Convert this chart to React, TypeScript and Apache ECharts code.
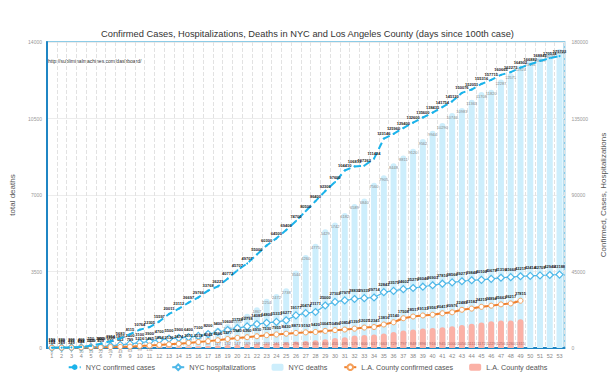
import React, { useEffect, useRef } from "react";
import * as echarts from "echarts";

const days: string[] = Array.from({ length: 53 }, (_, i) => String(i + 1));

const nycCases: number[] = [
  154, 269, 329, 644, 1339, 2469, 3954, 5683, 8115, 10764,
  12305, 15597, 20011, 23112, 26697, 29766, 33768, 36221, 40773, 45707,
  49707, 55000, 60300, 64500, 69400, 74700, 80500, 86400, 92300, 97600,
  104410, 106813, 107263, 111424, 123146, 125960, 129400, 132600, 135600, 138435,
  141754, 145130, 150076, 152051, 155316, 157715, 160665, 162273, 164902, 166882,
  168845, 170534, 171723,
];

const nycHosp: number[] = [
  150, 220, 300, 400, 550, 800, 1200, 1800, 2400, 3100,
  3900, 4700, 5500, 5900, 6400, 7100, 8200, 9400, 10600, 11728,
  12718, 14085, 14800, 15333, 16277, 19177, 20474, 21171, 25000, 27102,
  27979, 28830, 29331, 29714, 32843, 33575, 34602, 35279, 36046, 36903,
  37810, 38566, 39271, 39840, 40100, 40679, 41316, 41660, 42211, 42414,
  42709, 42940, 43188,
];

const nycDeaths: number[] = [
  0, 2, 7, 10, 13, 22, 26, 43, 63, 99,
  131, 199, 280, 385, 517, 678, 790, 932, 1096, 1374,
  1562, 1867, 2254, 2472, 2738, 3544, 4260, 4775, 5429, 5742,
  6182, 6589, 6840, 7560, 7905, 8448, 8811, 9120, 9562, 9944,
  10290, 10746, 10983, 11363, 11708, 11820, 12287, 12571, 12924, 13156,
  13319, 13536, 13683,
];

const laCases: number[] = [
  144, 190, 231, 292, 351, 409, 536, 662, 799, 1216,
  1465, 1804, 2136, 2474, 3011, 3518, 4045, 4566, 5277, 5940,
  6360, 6910, 7530, 7955, 8430, 8873, 9192, 9420, 10047, 10496,
  10854, 11391, 12021, 12341, 13816, 15140, 17508, 18517, 19133, 19567,
  20417, 20976, 22485, 23182, 24215, 24894, 25662, 26217, 27815,
];

const laDeaths: number[] = [
  1, 2, 2, 5, 5, 7, 11, 13, 21, 26,
  32, 38, 44, 54, 65, 78, 89, 117, 132, 147,
  169, 198, 223, 241, 265, 296, 320, 360, 400, 455,
  495, 576, 600, 617, 663, 729, 797, 848, 896, 916,
  945, 1000, 1056, 1111, 1172, 1229, 1256, 1260, 1315,
];

const leftTicks = { min: 0, max: 14000, interval: 3500 };
const rightTicks = { min: 0, max: 180000, interval: 45000 };

const FONT = "Liberation Sans";
const plain = (v: any) => String(typeof v === "object" && v !== null ? v.value : v);

export default function App() {
  const ref = useRef<HTMLDivElement>(null);
  useEffect(() => {
    if (!ref.current) return;
    const chart = echarts.init(ref.current, undefined, { renderer: "svg" });
    const lineLabel = {
      show: true,
      position: "top" as const,
      fontSize: 4,
      fontWeight: "bold" as const,
      color: "#222",
      fontFamily: FONT,
      distance: 2,
      formatter: (p: any) => String(p.value),
    };
    chart.setOption({
      animation: false,
      backgroundColor: "#fff",
      textStyle: { fontFamily: FONT },
      title: {
        text: "Confirmed Cases, Hospitalizations, Deaths in NYC and Los Angeles County (days since 100th case)",
        left: "center",
        top: 24,
        textStyle: { fontSize: 9.3, fontWeight: "normal", color: "#333", fontFamily: FONT },
      },
      legend: {
        bottom: 4,
        left: "center",
        itemWidth: 12,
        itemHeight: 7,
        itemGap: 16,
        textStyle: { fontSize: 7.2, color: "#555", fontFamily: FONT },
        data: [
          "NYC confirmed cases",
          "NYC hospitalizations",
          "NYC deaths",
          "L.A. County confirmed cases",
          "L.A. County deaths",
        ],
      },
      grid: {
        left: 32,
        right: 41,
        top: 42,
        bottom: 32,
        show: true,
        borderColor: "#8ccbe6",
        borderWidth: 2,
        backgroundColor: "#fff",
      },
      graphic: [
        {
          type: "text",
          left: 48,
          top: 58,
          style: {
            text: "http://subliminalmachines.com/dashboard/",
            fontSize: 5,
            fill: "#333",
            fontFamily: FONT,
          },
        },
      ],
      xAxis: {
        type: "category",
        data: days,
        axisLine: { lineStyle: { color: "#1f86c4", width: 2 } },
        axisTick: { show: false },
        axisLabel: { fontSize: 5.5, color: "#888", margin: 5, interval: 0 },
        splitLine: { show: true, lineStyle: { color: "#e2e2e2", type: "dashed", width: 1 } },
      },
      yAxis: [
        {
          type: "value",
          position: "left",
          ...leftTicks,
          name: "total deaths",
          nameLocation: "middle",
          nameGap: 31,
          nameTextStyle: { fontSize: 8, color: "#555" },
          axisLine: { show: true, lineStyle: { color: "#1f86c4", width: 2 } },
          axisTick: { show: false },
          axisLabel: { fontSize: 5, color: "#999", margin: 5, formatter: plain },
          splitLine: { show: true, lineStyle: { color: "#ececec" } },
        },
        {
          type: "value",
          position: "right",
          ...rightTicks,
          name: "Confirmed, Cases, Hospitalizations",
          nameLocation: "middle",
          nameGap: 29,
          nameTextStyle: { fontSize: 8, color: "#555" },
          axisLine: { show: false },
          axisTick: { show: false },
          axisLabel: { fontSize: 5, color: "#999", margin: 7, formatter: plain },
          splitLine: { show: false },
        },
      ],
      series: [
        {
          name: "NYC deaths",
          type: "bar",
          yAxisIndex: 0,
          data: nycDeaths,
          barWidth: 6,
          barGap: "-100%",
          itemStyle: { color: "#cdeefc", borderRadius: [3, 3, 0, 0] },
          label: {
            show: true,
            position: "insideTop",
            fontSize: 4,
            color: "#888",
            distance: 2,
            formatter: (p: any) => String(p.value),
          },
          z: 1,
        },
        {
          name: "L.A. County deaths",
          type: "bar",
          yAxisIndex: 0,
          data: laDeaths,
          barWidth: 6,
          barGap: "-100%",
          itemStyle: { color: "#fbb1a6", borderRadius: [3, 3, 0, 0] },
          label: {
            show: true,
            position: "insideBottom",
            fontSize: 4,
            color: "#a66",
            distance: 3,
            formatter: (p: any) => String(p.value),
          },
          z: 2,
        },
        {
          name: "NYC confirmed cases",
          type: "line",
          yAxisIndex: 1,
          data: nycCases,
          symbol: "circle",
          symbolSize: 2,
          itemStyle: { color: "#1bb3ea" },
          lineStyle: { color: "#1bb3ea", width: 2, type: [7, 4] },
          label: lineLabel,
          z: 5,
        },
        {
          name: "NYC hospitalizations",
          type: "line",
          yAxisIndex: 1,
          data: nycHosp,
          symbol: "diamond",
          symbolSize: 7,
          itemStyle: { color: "#fff", borderColor: "#4fb8e8", borderWidth: 1.2 },
          lineStyle: { color: "#4fb8e8", width: 1.2 },
          label: lineLabel,
          z: 4,
        },
        {
          name: "L.A. County confirmed cases",
          type: "line",
          yAxisIndex: 1,
          data: laCases,
          symbol: "circle",
          symbolSize: 5,
          itemStyle: { color: "#fff", borderColor: "#f5a05a", borderWidth: 1 },
          lineStyle: { color: "#f07f2c", width: 2 },
          label: lineLabel,
          z: 4,
        },
      ],
    });
    return () => chart.dispose();
  }, []);
  return (
    <div
      ref={ref}
      style={{ position: "fixed", left: 0, top: 0, width: 615, height: 380 }}
    />
  );
}
